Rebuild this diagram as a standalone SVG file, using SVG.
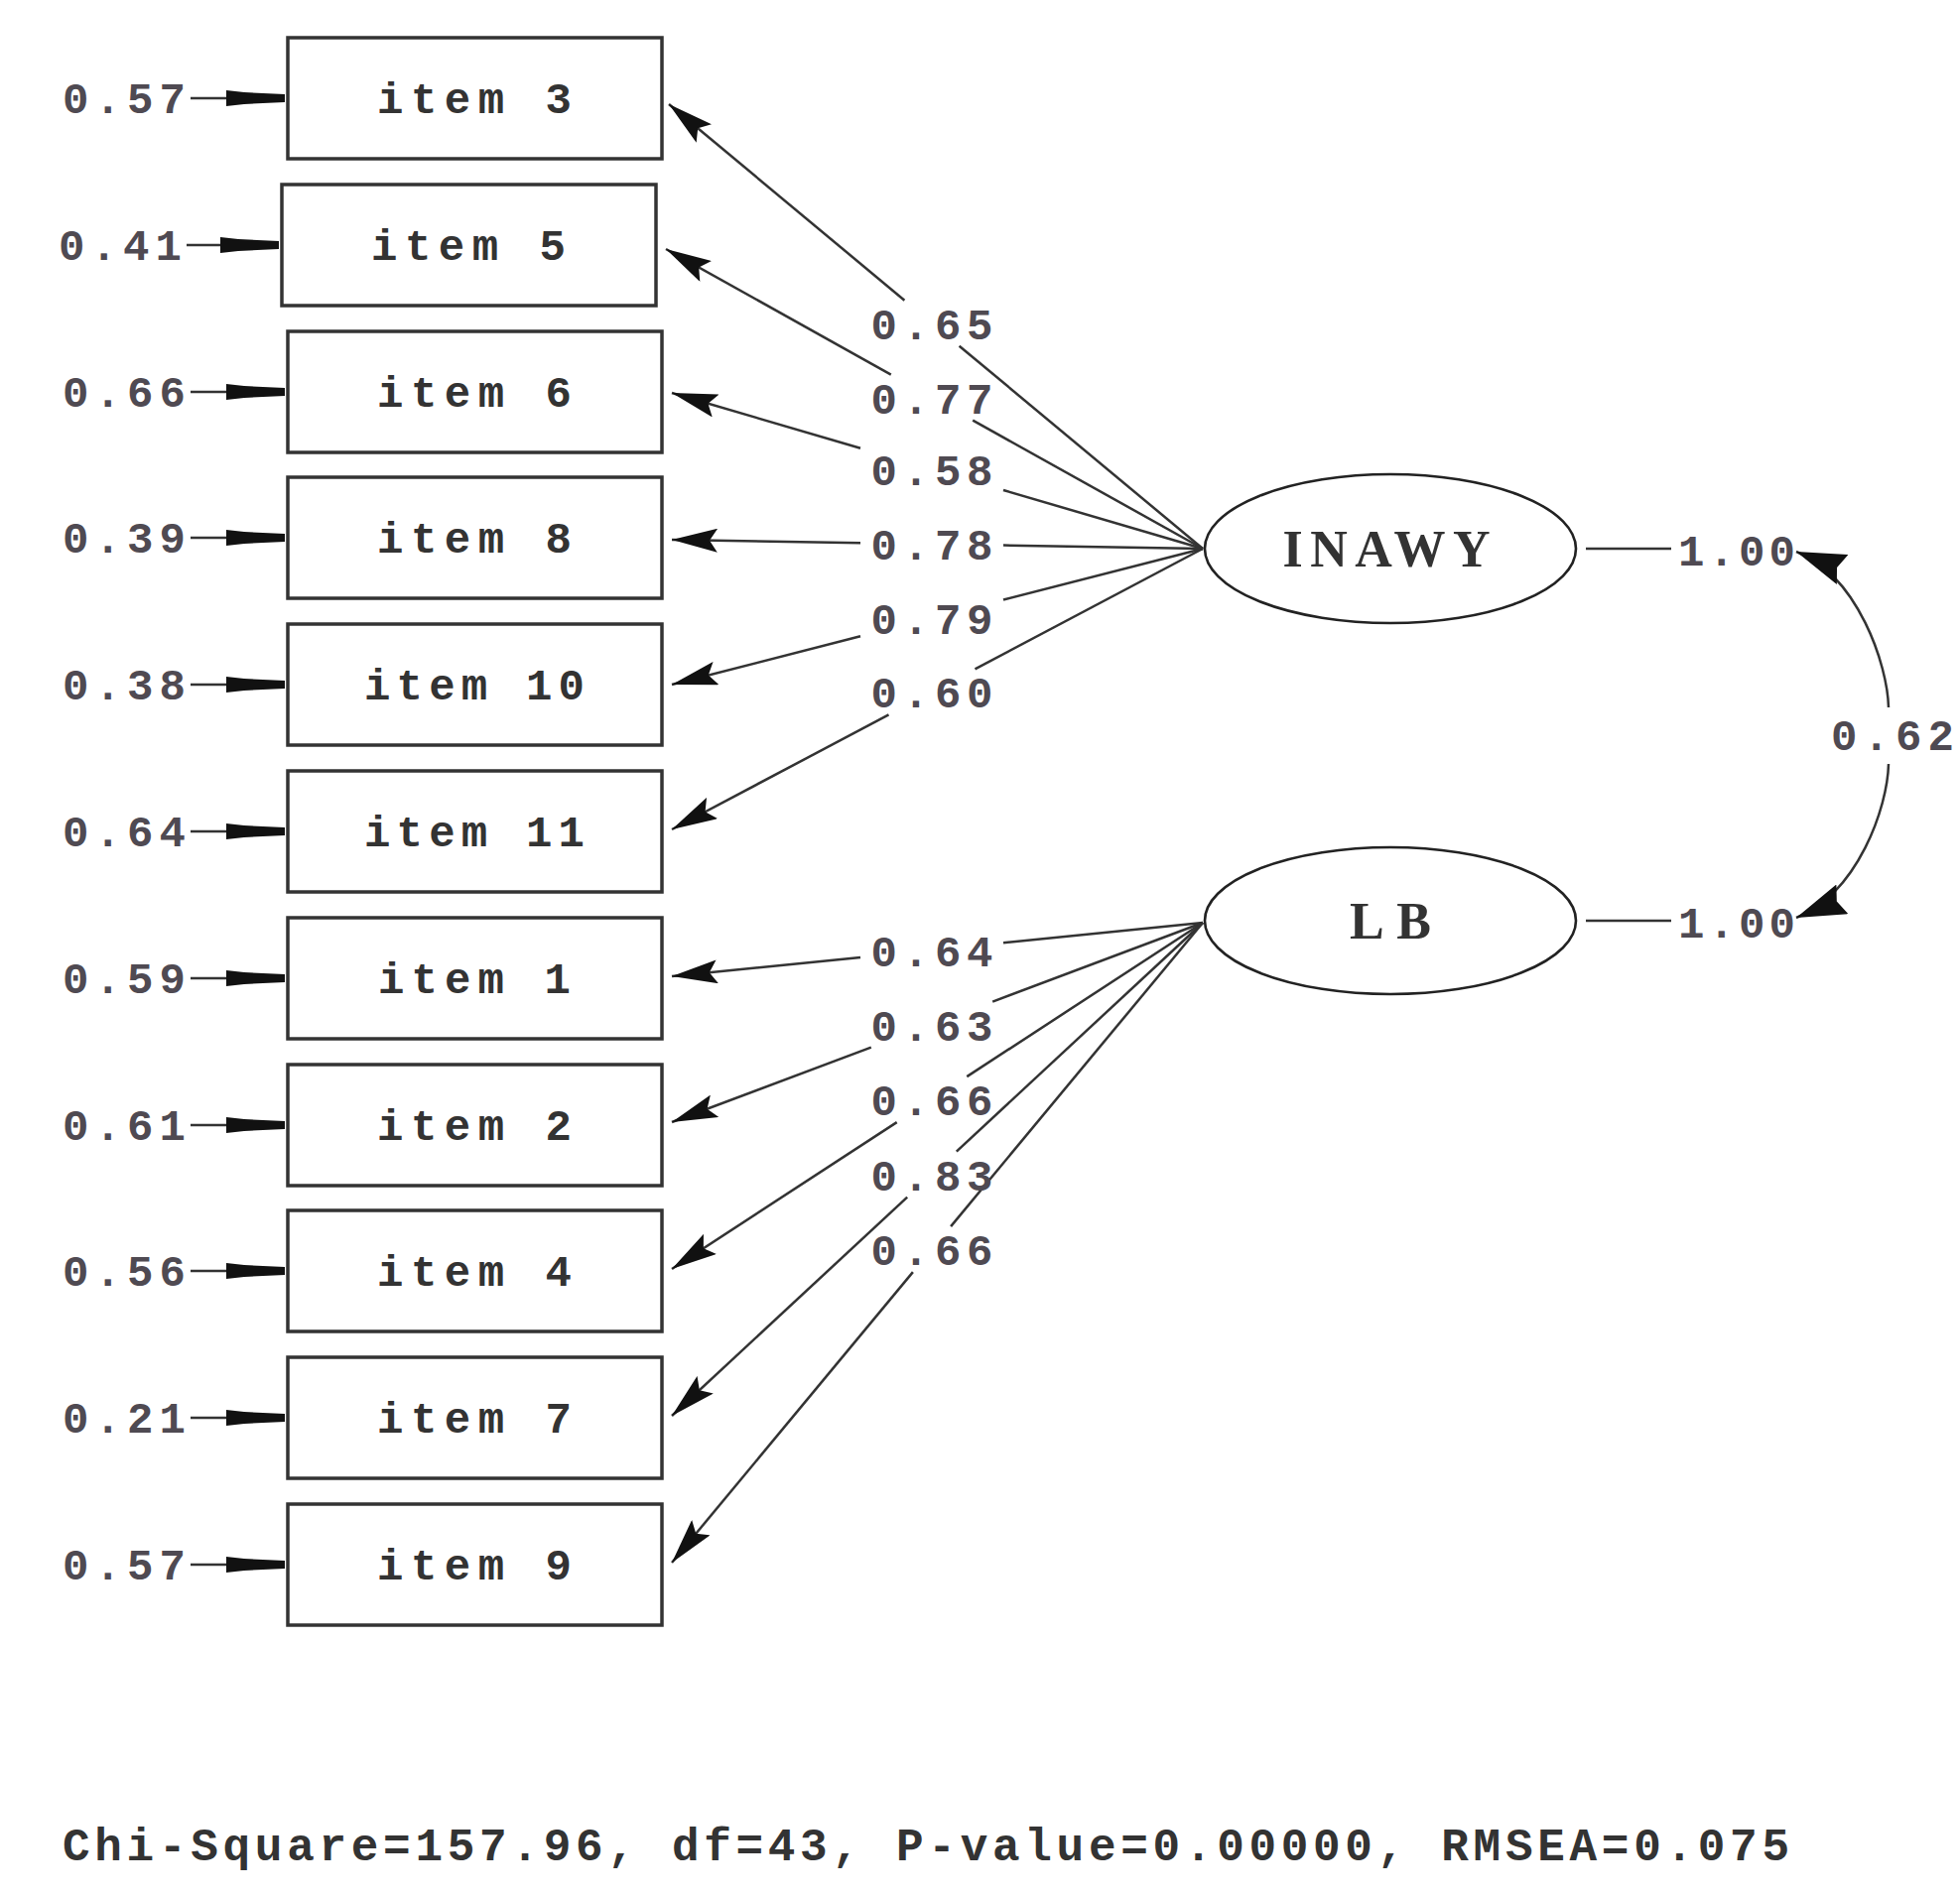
<svg xmlns="http://www.w3.org/2000/svg" width="1975" height="1910" viewBox="0 0 1975 1910">
<style>
  .box { fill: #ffffff; stroke: #333333; stroke-width: 3.5; }
  .lat { fill: #ffffff; stroke: #222222; stroke-width: 2.6; }
  .ln { stroke: #333333; stroke-width: 2.5; fill: none; }
  .eh { fill: #111111; }
  .num { font-family: "Liberation Mono", "DejaVu Sans Mono", monospace; font-weight: bold; font-size: 44px; fill: #4f4a52; }
  .itm { font-family: "Liberation Mono", "DejaVu Sans Mono", monospace; font-weight: bold; font-size: 44px; fill: #333333; text-anchor: middle; }
  .latt { font-family: "Liberation Serif", "DejaVu Serif", serif; font-weight: bold; font-size: 52px; fill: #333333; text-anchor: middle; }
  .ld { font-family: "Liberation Mono", "DejaVu Sans Mono", monospace; font-weight: bold; font-size: 44px; fill: #4f4a52; text-anchor: middle; }
  .fit { font-family: "Liberation Mono", "DejaVu Sans Mono", monospace; font-weight: bold; font-size: 46px; fill: #333333; }
</style>
<defs>
  <marker id="ah" markerUnits="userSpaceOnUse" markerWidth="46" markerHeight="24" viewBox="0 0 46 24" refX="46" refY="12" orient="auto-start-reverse">
    <path d="M0,0 L46,12 L0,24 L8,12 Z" fill="#111111"/>
  </marker>
  <marker id="ahc" markerUnits="userSpaceOnUse" markerWidth="50" markerHeight="32" viewBox="0 0 50 32" refX="50" refY="16" orient="auto-start-reverse">
    <path d="M0,0 L50,16 L0,32 L6,16 Z" fill="#111111"/>
  </marker>
</defs>
<rect x="0" y="0" width="1975" height="1910" fill="#ffffff"/>

<g id="connectors">
  <!-- error arrows -->
  <g>
    <line class="ln" x1="192" y1="99" x2="232" y2="99"/><path class="eh" d="M228,91 L246,93 L287,95 L287,103 L246,105 L228,107 Z"/>
    <line class="ln" x1="188" y1="247" x2="226" y2="247"/><path class="eh" d="M222,239 L240,241 L281,243 L281,251 L240,253 L222,255 Z"/>
    <line class="ln" x1="192" y1="395" x2="232" y2="395"/><path class="eh" d="M228,387 L246,389 L287,391 L287,399 L246,401 L228,403 Z"/>
    <line class="ln" x1="192" y1="542" x2="232" y2="542"/><path class="eh" d="M228,534 L246,536 L287,538 L287,546 L246,548 L228,550 Z"/>
    <line class="ln" x1="192" y1="690" x2="232" y2="690"/><path class="eh" d="M228,682 L246,684 L287,686 L287,694 L246,696 L228,698 Z"/>
    <line class="ln" x1="192" y1="838" x2="232" y2="838"/><path class="eh" d="M228,830 L246,832 L287,834 L287,842 L246,844 L228,846 Z"/>
    <line class="ln" x1="192" y1="986" x2="232" y2="986"/><path class="eh" d="M228,978 L246,980 L287,982 L287,990 L246,992 L228,994 Z"/>
    <line class="ln" x1="192" y1="1134" x2="232" y2="1134"/><path class="eh" d="M228,1126 L246,1128 L287,1130 L287,1138 L246,1140 L228,1142 Z"/>
    <line class="ln" x1="192" y1="1281" x2="232" y2="1281"/><path class="eh" d="M228,1273 L246,1275 L287,1277 L287,1285 L246,1287 L228,1289 Z"/>
    <line class="ln" x1="192" y1="1429" x2="232" y2="1429"/><path class="eh" d="M228,1421 L246,1423 L287,1425 L287,1433 L246,1435 L228,1437 Z"/>
    <line class="ln" x1="192" y1="1577" x2="232" y2="1577"/><path class="eh" d="M228,1569 L246,1571 L287,1573 L287,1581 L246,1583 L228,1585 Z"/>
  </g>

  <!-- INAWY loadings -->
  <line class="ln" x1="911.4" y1="302.7" x2="674" y2="105" marker-end="url(#ah)"/>
  <line class="ln" x1="966.6" y1="348.7" x2="1212" y2="553"/>
  <line class="ln" x1="897.8" y1="377.6" x2="671" y2="251" marker-end="url(#ah)"/>
  <line class="ln" x1="980.2" y1="423.6" x2="1212" y2="553"/>
  <line class="ln" x1="867" y1="451.8" x2="677" y2="396" marker-end="url(#ah)"/>
  <line class="ln" x1="1011" y1="494.0" x2="1212" y2="553"/>
  <line class="ln" x1="867" y1="547.2" x2="677" y2="544" marker-end="url(#ah)"/>
  <line class="ln" x1="1011" y1="549.6" x2="1212" y2="553"/>
  <line class="ln" x1="867" y1="641.3" x2="677" y2="690" marker-end="url(#ah)"/>
  <line class="ln" x1="1011" y1="604.5" x2="1212" y2="553"/>
  <line class="ln" x1="895.5" y1="720.4" x2="677" y2="836" marker-end="url(#ah)"/>
  <line class="ln" x1="982.5" y1="674.4" x2="1212" y2="553"/>

  <!-- LB loadings -->
  <line class="ln" x1="867" y1="964.9" x2="677" y2="984" marker-end="url(#ah)"/>
  <line class="ln" x1="1011" y1="950.3" x2="1212" y2="930"/>
  <line class="ln" x1="877.8" y1="1055.6" x2="677" y2="1131" marker-end="url(#ah)"/>
  <line class="ln" x1="1000.2" y1="1009.6" x2="1212" y2="930"/>
  <line class="ln" x1="903.7" y1="1131.1" x2="677" y2="1279" marker-end="url(#ah)"/>
  <line class="ln" x1="974.3" y1="1085.1" x2="1212" y2="930"/>
  <line class="ln" x1="914.2" y1="1206.6" x2="677" y2="1427" marker-end="url(#ah)"/>
  <line class="ln" x1="963.8" y1="1160.6" x2="1212" y2="930"/>
  <line class="ln" x1="919.9" y1="1282.1" x2="677" y2="1575" marker-end="url(#ah)"/>
  <line class="ln" x1="958.1" y1="1236.1" x2="1212" y2="930"/>

  <!-- variance lines -->
  <line class="ln" x1="1598" y1="553" x2="1684" y2="553"/>
  <line class="ln" x1="1598" y1="928" x2="1684" y2="928"/>

  <!-- correlation arc -->
  <path class="ln" d="M1810,556 C1872,580 1902,670 1903,713" marker-start="url(#ahc)"/>
  <path class="ln" d="M1903,770 C1902,814 1872,900 1810,925" marker-end="url(#ahc)"/>

  <!-- labels -->
  <text class="ld" x="939" y="342" textLength="123">0.65</text>
  <text class="ld" x="939" y="417" textLength="123">0.77</text>
  <text class="ld" x="939" y="489" textLength="123">0.58</text>
  <text class="ld" x="939" y="564" textLength="123">0.78</text>
  <text class="ld" x="939" y="639" textLength="123">0.79</text>
  <text class="ld" x="939" y="713" textLength="123">0.60</text>
  <text class="ld" x="939" y="974" textLength="123">0.64</text>
  <text class="ld" x="939" y="1049" textLength="123">0.63</text>
  <text class="ld" x="939" y="1124" textLength="123">0.66</text>
  <text class="ld" x="939" y="1200" textLength="123">0.83</text>
  <text class="ld" x="939" y="1275" textLength="123">0.66</text>
  <text class="num" x="1691" y="570" textLength="118">1.00</text>
  <text class="num" x="1691" y="945" textLength="118">1.00</text>
  <text class="num" x="1845" y="756" textLength="124">0.62</text>
</g>

<g id="err3"><text class="num" x="63" y="114" textLength="124">0.57</text></g>
<g id="err5"><text class="num" x="59" y="262" textLength="124">0.41</text></g>
<g id="err6"><text class="num" x="63" y="410" textLength="124">0.66</text></g>
<g id="err8"><text class="num" x="63" y="557" textLength="124">0.39</text></g>
<g id="err10"><text class="num" x="63" y="705" textLength="124">0.38</text></g>
<g id="err11"><text class="num" x="63" y="853" textLength="124">0.64</text></g>
<g id="err1"><text class="num" x="63" y="1001" textLength="124">0.59</text></g>
<g id="err2"><text class="num" x="63" y="1149" textLength="124">0.61</text></g>
<g id="err4"><text class="num" x="63" y="1296" textLength="124">0.56</text></g>
<g id="err7"><text class="num" x="63" y="1444" textLength="124">0.21</text></g>
<g id="err9"><text class="num" x="63" y="1592" textLength="124">0.57</text></g>

<g id="item3"><rect class="box" x="290" y="38" width="377" height="122"/><text class="itm" x="478" y="114" textLength="196">item 3</text></g>
<g id="item5"><rect class="box" x="284" y="186" width="377" height="122"/><text class="itm" x="472" y="262" textLength="196">item 5</text></g>
<g id="item6"><rect class="box" x="290" y="334" width="377" height="122"/><text class="itm" x="478" y="410" textLength="196">item 6</text></g>
<g id="item8"><rect class="box" x="290" y="481" width="377" height="122"/><text class="itm" x="478" y="557" textLength="196">item 8</text></g>
<g id="item10"><rect class="box" x="290" y="629" width="377" height="122"/><text class="itm" x="478" y="705" textLength="222">item 10</text></g>
<g id="item11"><rect class="box" x="290" y="777" width="377" height="122"/><text class="itm" x="478" y="853" textLength="222">item 11</text></g>
<g id="item1"><rect class="box" x="290" y="925" width="377" height="122"/><text class="itm" x="478" y="1001" textLength="194">item 1</text></g>
<g id="item2"><rect class="box" x="290" y="1073" width="377" height="122"/><text class="itm" x="478" y="1149" textLength="196">item 2</text></g>
<g id="item4"><rect class="box" x="290" y="1220" width="377" height="122"/><text class="itm" x="478" y="1296" textLength="196">item 4</text></g>
<g id="item7"><rect class="box" x="290" y="1368" width="377" height="122"/><text class="itm" x="478" y="1444" textLength="196">item 7</text></g>
<g id="item9"><rect class="box" x="290" y="1516" width="377" height="122"/><text class="itm" x="478" y="1592" textLength="196">item 9</text></g>

<g id="INAWY"><ellipse class="lat" cx="1401" cy="553" rx="187" ry="75"/><text class="latt" x="1397" y="571" textLength="209">INAWY</text></g>
<g id="LB"><ellipse class="lat" cx="1401" cy="928" rx="187" ry="74"/><text class="latt" x="1401" y="946" textLength="82">LB</text></g>

<g id="fit"><text class="fit" x="63" y="1875" textLength="1740">Chi-Square=157.96, df=43, P-value=0.00000, RMSEA=0.075</text></g>
</svg>
